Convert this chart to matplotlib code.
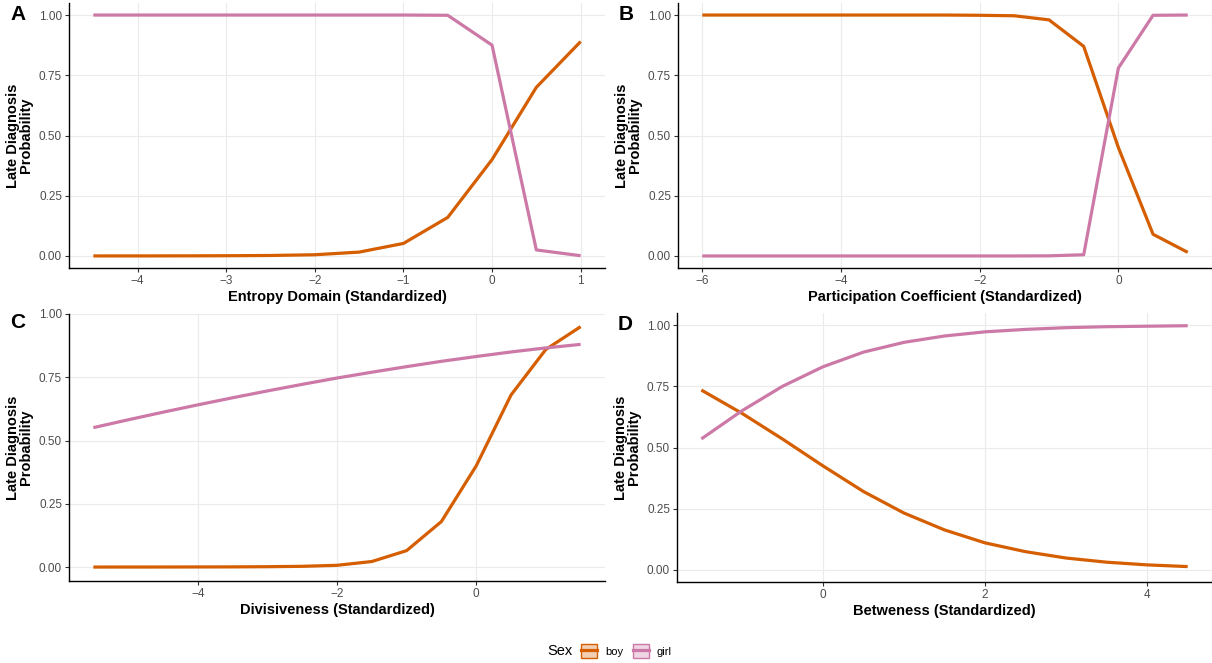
import matplotlib
matplotlib.use("Agg")
import matplotlib.pyplot as plt
from matplotlib.patches import Patch
from matplotlib.lines import Line2D

plt.rcParams['font.family'] = ['Liberation Sans', 'DejaVu Sans']

BOY_COLOR = "#D55E00"
GIRL_COLOR = "#CC79A7"

# Panel A: Entropy Domain
xA = [-4.5, -4.0, -3.5, -3.0, -2.5, -2.0, -1.5, -1.0, -0.5, 0.0, 0.5, 1.0]
boyA = [0.0001, 0.0002, 0.0004, 0.0009, 0.002, 0.005, 0.016, 0.052, 0.16, 0.40, 0.70, 0.89]
girlA = [1.0, 1.0, 1.0, 1.0, 1.0, 1.0, 1.0, 1.0, 0.999, 0.875, 0.025, 0.001]

# Panel B: Participation Coefficient
xB = [-6.0, -5.5, -5.0, -4.5, -4.0, -3.5, -3.0, -2.5, -2.0, -1.5, -1.0, -0.5, 0.0, 0.5, 1.0]
boyB = [1.0, 1.0, 1.0, 1.0, 1.0, 1.0, 1.0, 1.0, 0.999, 0.997, 0.98, 0.87, 0.45, 0.09, 0.015]
girlB = [0.0, 0.0, 0.0, 0.0, 0.0, 0.0, 0.0, 0.0, 0.0, 0.0, 0.0005, 0.005, 0.78, 0.999, 1.0]

# Panel C: Divisiveness
xC = [-5.5, -5.0, -4.5, -4.0, -3.5, -3.0, -2.5, -2.0, -1.5, -1.0, -0.5, 0.0, 0.5, 1.0, 1.5]
boyC = [0.0001, 0.0002, 0.0003, 0.0005, 0.0008, 0.0015, 0.003, 0.007, 0.022, 0.065, 0.18, 0.40, 0.68, 0.86, 0.95]
girlC = [0.551, 0.582, 0.612, 0.641, 0.669, 0.696, 0.722, 0.747, 0.770, 0.792, 0.813, 0.832, 0.850, 0.866, 0.880]

# Panel D: Betweness
xD = [-1.5, -1.0, -0.5, 0.0, 0.5, 1.0, 1.5, 2.0, 2.5, 3.0, 3.5, 4.0, 4.5]
boyD = [0.735, 0.64, 0.535, 0.425, 0.32, 0.232, 0.163, 0.11, 0.074, 0.048, 0.031, 0.02, 0.013]
girlD = [0.535, 0.65, 0.75, 0.83, 0.89, 0.93, 0.956, 0.973, 0.983, 0.99, 0.994, 0.996, 0.998]

y_ticks = [0.0, 0.25, 0.5, 0.75, 1.0]
y_ticklabels = ["0.00", "0.25", "0.50", "0.75", "1.00"]

panels = [
    ("A", xA, boyA, girlA, "Entropy Domain (Standardized)", [-4, -3, -2, -1, 0, 1], (-0.05, 1.05)),
    ("B", xB, boyB, girlB, "Participation Coefficient (Standardized)", [-6, -4, -2, 0], (-0.05, 1.05)),
    ("C", xC, boyC, girlC, "Divisiveness (Standardized)", [-4, -2, 0], (-0.055, 1.0)),
    ("D", xD, boyD, girlD, "Betweness (Standardized)", [0, 2, 4], (-0.05, 1.05)),
]

W, H = 1212, 663
fig = plt.figure(figsize=(W / 100, H / 100), dpi=100)

# axes boxes in pixels: left, top, right, bottom
boxes = [
    (69, 3, 605, 268),
    (678, 3, 1212, 268),
    (69, 314, 605, 581),
    (677, 313, 1212, 582),
]

for (letter, x, boy, girl, xlabel, xticks, ylim), (l, t, r, b) in zip(panels, boxes):
    ax = fig.add_axes([l / W, 1 - b / H, (r - l) / W, (b - t) / H])
    ax.patch.set_alpha(0.0)
    xmin, xmax = min(x), max(x)
    pad = 0.05 * (xmax - xmin)
    ax.set_xlim(xmin - pad, xmax + pad)
    ax.set_ylim(*ylim)
    ax.grid(True, color="#ebebeb", linewidth=0.8)
    ax.set_axisbelow(True)
    ax.plot(x, boy, color=BOY_COLOR, linewidth=2.3, solid_capstyle="butt", clip_on=False)
    ax.plot(x, girl, color=GIRL_COLOR, linewidth=2.3, solid_capstyle="butt", clip_on=False)
    ax.set_xticks(xticks)
    ax.set_xticklabels([("\u2212" + str(abs(v))) if v < 0 else str(v) for v in xticks])
    ax.set_yticks(y_ticks)
    ax.set_yticklabels(y_ticklabels)
    for s in ["top", "right"]:
        ax.spines[s].set_visible(False)
    for s in ["left", "bottom"]:
        ax.spines[s].set_linewidth(1.0)
        ax.spines[s].set_color("black")
    ax.tick_params(axis="both", length=3, width=0.8, color="#333333",
                   labelsize=8.5, labelcolor="#4d4d4d", pad=2)
    ax.set_xlabel(xlabel, fontsize=10.5, fontweight="bold", labelpad=2)
    ax.set_ylabel("Late Diagnosis\nProbability", fontsize=10.5, fontweight="bold",
                  labelpad=4, linespacing=0.95)
    ty = 15 if t < 10 else (322 if letter == "C" else 325)
    fig.text((l - 59) / W, 1 - ty / H, letter, fontsize=15, fontweight="bold",
             ha="left", va="center")

handles = [
    (Patch(facecolor=BOY_COLOR, alpha=0.3, edgecolor="none"),
     Patch(facecolor="none", edgecolor=BOY_COLOR, linewidth=1.0),
     Line2D([0], [0], color=BOY_COLOR, linewidth=2.3)),
    (Patch(facecolor=GIRL_COLOR, alpha=0.3, edgecolor="none"),
     Patch(facecolor="none", edgecolor=GIRL_COLOR, linewidth=1.0),
     Line2D([0], [0], color=GIRL_COLOR, linewidth=2.3)),
]
fig.text(547 / W, 1 - 651 / H, "Sex", fontsize=10.5, ha="left", va="center")
leg = fig.legend(handles, ["boy", "girl"], ncol=2, loc="center left",
                 bbox_to_anchor=(581 / W, 1 - 651 / H), frameon=False,
                 fontsize=8, handlelength=1.45, handleheight=1.45,
                 columnspacing=0.9, handletextpad=0.7, borderpad=0, borderaxespad=0)

fig.savefig("out.png", dpi=100)
